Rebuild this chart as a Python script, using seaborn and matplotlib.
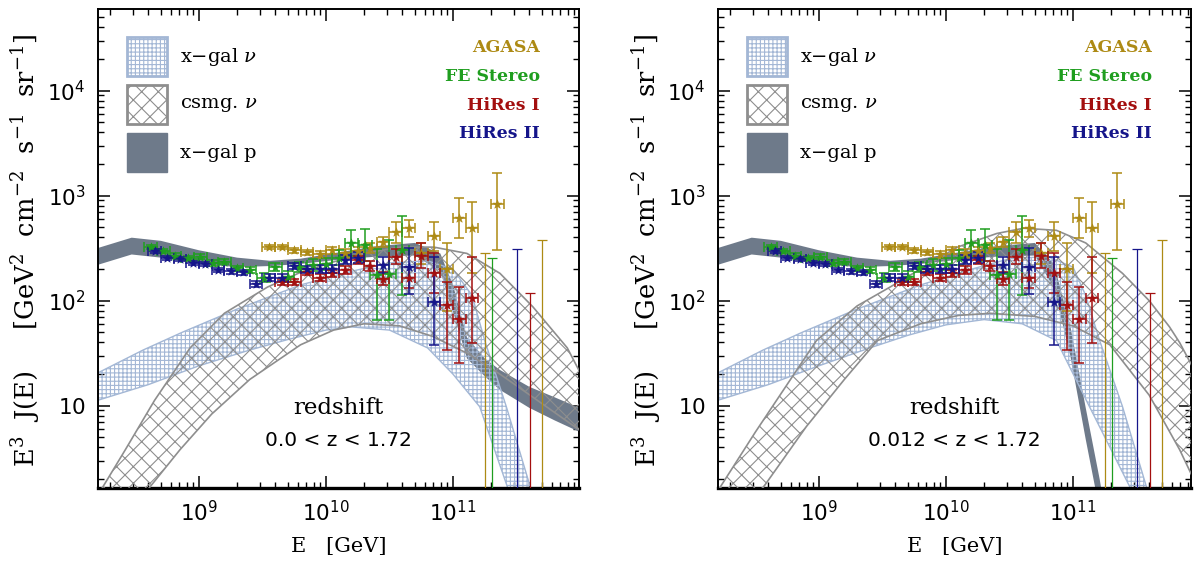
import numpy as np
import matplotlib
matplotlib.use("Agg")
import matplotlib.pyplot as plt
import seaborn as sns
from matplotlib.patches import Rectangle
from matplotlib.ticker import FixedLocator, FixedFormatter, NullFormatter, LogLocator

# ---------------- data: log10(E / GeV) and log10(E^3 J) ----------------
agasa_logE = [9.55, 9.65, 9.75, 9.85, 9.95, 10.05, 10.15, 10.25, 10.35, 10.45, 10.55, 10.65,
              10.75, 10.85, 10.95, 11.05, 11.15, 11.35]
agasa_logJ = [2.51, 2.51, 2.48, 2.46, 2.44, 2.48, 2.45, 2.47, 2.50, 2.56, 2.65, 2.69,
              2.45, 2.62, 2.30, 2.79, 2.69, 2.92]
agasa_dlo = [0.02, 0.02, 0.025, 0.025, 0.03, 0.035, 0.04, 0.045, 0.05, 0.05, 0.10, 0.08,
             0.10, 0.15, 0.40, 0.19, 0.43, 0.44]
agasa_dhi = [0.02, 0.02, 0.025, 0.025, 0.03, 0.035, 0.04, 0.045, 0.05, 0.05, 0.10, 0.08,
             0.10, 0.13, 0.25, 0.19, 0.25, 0.30]
agasa_ul_logE = [11.25, 11.70]
agasa_ul_logJ = [2.45, 2.58]

fe_logE = [8.62, 8.72, 8.81, 8.91, 9.01, 9.11, 9.20, 9.30, 9.40, 9.51, 9.60, 9.70, 9.79,
           9.90, 10.00, 10.10, 10.20, 10.31, 10.40, 10.50, 10.60]
fe_logJ = [2.51, 2.47, 2.43, 2.41, 2.42, 2.36, 2.37, 2.31, 2.29, 2.22, 2.32, 2.23, 2.32,
           2.34, 2.35, 2.41, 2.55, 2.53, 2.24, 2.25, 2.48]
fe_dlo = [0.02, 0.02, 0.02, 0.02, 0.02, 0.025, 0.025, 0.025, 0.03, 0.04, 0.04, 0.05, 0.05,
          0.06, 0.06, 0.07, 0.12, 0.15, 0.42, 0.43, 0.43]
fe_dhi = [0.02, 0.02, 0.02, 0.02, 0.02, 0.025, 0.025, 0.025, 0.03, 0.04, 0.04, 0.05, 0.05,
          0.06, 0.06, 0.07, 0.12, 0.15, 0.25, 0.33, 0.33]
fe_ul_logE = [11.31]
fe_ul_logJ = [2.41]

hr1_logE = [9.65, 9.75, 9.85, 9.95, 10.05, 10.15, 10.25, 10.35, 10.45, 10.55, 10.65, 10.75,
            10.85, 10.95, 11.05, 11.15]
hr1_logJ = [2.18, 2.18, 2.27, 2.22, 2.26, 2.29, 2.39, 2.33, 2.21, 2.42, 2.22, 2.43,
            2.26, 1.96, 1.83, 2.03]
hr1_dlo = [0.03, 0.03, 0.03, 0.035, 0.035, 0.04, 0.04, 0.05, 0.06, 0.07, 0.10, 0.12,
           0.19, 0.43, 0.42, 0.43]
hr1_dhi = [0.03, 0.03, 0.03, 0.035, 0.035, 0.04, 0.04, 0.05, 0.06, 0.07, 0.10, 0.12,
           0.19, 0.22, 0.30, 0.39]
hr1_ul_logE = [11.61]
hr1_ul_logJ = [2.07]

hr2_logE = [8.65, 8.75, 8.85, 8.95, 9.05, 9.15, 9.25, 9.35, 9.45, 9.55, 9.65, 9.75, 9.85,
            9.95, 10.05, 10.15, 10.25, 10.45, 10.65, 10.85]
hr2_logJ = [2.47, 2.41, 2.40, 2.36, 2.35, 2.29, 2.28, 2.27, 2.16, 2.22, 2.22, 2.33, 2.30,
            2.30, 2.30, 2.39, 2.41, 2.34, 2.32, 1.99]
hr2_dlo = [0.02, 0.02, 0.02, 0.02, 0.02, 0.02, 0.025, 0.025, 0.03, 0.03, 0.03, 0.03, 0.035,
           0.04, 0.04, 0.045, 0.05, 0.08, 0.26, 0.41]
hr2_dhi = [0.02, 0.02, 0.02, 0.02, 0.02, 0.02, 0.025, 0.025, 0.03, 0.03, 0.03, 0.03, 0.035,
           0.04, 0.04, 0.045, 0.05, 0.08, 0.18, 0.43]
hr2_ul_logE = [11.50]
hr2_ul_logJ = [2.49]

half_bin = 0.05   # half width of the energy bins (decades)

# ---------------- model bands (edges: log10 E, log10 E^3 J) ----------------
# left panel: redshift 0.0 < z < 1.72
L_xnu_up_E = [8.10, 8.20, 8.56, 8.87, 9.30, 9.80, 10.20, 10.50, 10.80, 11.00, 11.15, 11.25, 11.42, 11.61, 11.70]
L_xnu_up_J = [1.24, 1.31, 1.53, 1.70, 1.92, 2.15, 2.28, 2.36, 2.38, 2.30, 2.05, 1.62, 0.99, 0.22, -0.30]
L_xnu_lo_E = [8.10, 8.20, 8.60, 9.00, 9.40, 9.70, 10.00, 10.20, 10.50, 10.80, 11.00, 11.21, 11.43, 11.50]
L_xnu_lo_J = [0.98, 1.05, 1.20, 1.38, 1.53, 1.63, 1.72, 1.75, 1.72, 1.55, 1.30, 0.99, 0.22, -0.10]

L_cnu_up_E = [8.10, 8.24, 8.42, 8.65, 8.93, 9.20, 9.54, 9.80, 10.06, 10.30, 10.58, 10.85, 11.11, 11.37, 11.63, 11.90, 12.05]
L_cnu_up_J = [-0.10, 0.22, 0.58, 1.05, 1.55, 1.88, 2.13, 2.27, 2.37, 2.45, 2.51, 2.51, 2.45, 2.26, 1.94, 1.55, 1.20]
L_cnu_lo_E = [8.30, 8.61, 8.85, 9.10, 9.40, 9.80, 10.06, 10.30, 10.58, 10.84, 11.11, 11.37, 11.63, 11.90, 12.05]
L_cnu_lo_J = [-0.30, 0.22, 0.58, 0.92, 1.25, 1.58, 1.72, 1.78, 1.76, 1.66, 1.50, 1.30, 1.08, 0.85, 0.72]

L_p_E = [8.10, 8.20, 8.47, 8.70, 9.00, 9.30, 9.56, 9.80, 10.10, 10.40, 10.70, 10.90, 11.00, 11.11, 11.25, 11.37, 11.60, 11.80, 12.05]
L_p_up = [2.46, 2.50, 2.60, 2.57, 2.48, 2.41, 2.38, 2.40, 2.46, 2.52, 2.55, 2.45, 2.15, 1.65, 1.45, 1.34, 1.18, 1.08, 0.95]
L_p_lo = [2.30, 2.34, 2.44, 2.41, 2.35, 2.32, 2.33, 2.35, 2.39, 2.42, 2.43, 2.28, 1.90, 1.45, 1.28, 1.15, 0.98, 0.86, 0.72]

# right panel: redshift 0.012 < z < 1.72
R_xnu_up_E = [8.10, 8.20, 8.56, 8.87, 9.30, 9.80, 10.20, 10.50, 10.80, 11.00, 11.10, 11.21, 11.39, 11.58, 11.70]
R_xnu_up_J = [1.24, 1.31, 1.53, 1.70, 1.92, 2.15, 2.30, 2.40, 2.42, 2.32, 2.05, 1.62, 0.99, 0.22, -0.50]
R_xnu_lo_E = [8.10, 8.20, 8.60, 9.00, 9.40, 9.70, 10.00, 10.30, 10.60, 10.87, 11.13, 11.45, 11.55]
R_xnu_lo_J = [0.98, 1.05, 1.20, 1.38, 1.55, 1.67, 1.77, 1.82, 1.78, 1.62, 0.99, 0.22, -0.20]

R_cnu_up_E = [8.10, 8.22, 8.50, 8.98, 9.30, 9.56, 10.09, 10.40, 10.61, 10.87, 11.10, 11.39, 11.60, 11.76, 11.84, 11.95]
R_cnu_up_J = [-0.20, 0.22, 0.75, 1.62, 1.95, 2.13, 2.51, 2.64, 2.69, 2.67, 2.55, 2.26, 2.00, 1.75, 1.60, 1.35]
R_cnu_lo_E = [8.30, 8.56, 8.90, 9.20, 9.46, 9.80, 10.10, 10.35, 10.70, 11.00, 11.29, 11.60, 11.84, 11.95]
R_cnu_lo_J = [-0.20, 0.22, 0.80, 1.25, 1.62, 1.78, 1.86, 1.88, 1.85, 1.76, 1.58, 1.10, 0.58, 0.30]

R_p_E = [8.10, 8.20, 8.47, 8.70, 9.00, 9.30, 9.56, 9.80, 10.10, 10.40, 10.70, 10.85, 10.98, 11.10, 11.21, 11.32]
R_p_up = [2.46, 2.50, 2.60, 2.57, 2.48, 2.41, 2.38, 2.40, 2.46, 2.52, 2.55, 2.35, 1.75, 0.98, 0.30, -0.50]
R_p_lo = [2.30, 2.34, 2.44, 2.41, 2.35, 2.32, 2.33, 2.35, 2.39, 2.42, 2.43, 2.12, 1.47, 0.68, 0.00, -0.80]

# ---------------- labels / ticks ----------------
legend_labels = ["x\u2212gal $\\nu$", "csmg. $\\nu$", "x\u2212gal p"]
experiments = ["AGASA", "FE Stereo", "HiRes I", "HiRes II"]
redshift_ranges = ["0.0 < z < 1.72", "0.012 < z < 1.72"]
xtick_vals = [1e9, 1e10, 1e11]
xtick_labels = ["$\\mathdefault{10^{9}}$", "$\\mathdefault{10^{10}}$", "$\\mathdefault{10^{11}}$"]
ytick_vals = [10, 100, 1000, 10000]
ytick_labels = ["$\\mathdefault{10}$", "$\\mathdefault{10^{2}}$", "$\\mathdefault{10^{3}}$", "$\\mathdefault{10^{4}}$"]
xlabel = "E   [GeV]"
ylabel = "E$^{3}$  J(E)     [GeV$^{2}$  cm$^{-2}$  s$^{-1}$  sr$^{-1}$]"

# ---------------- styling ----------------
sns.set_theme(style="ticks")
plt.rcParams["font.family"] = ["DejaVu Sans"]
plt.rcParams["hatch.linewidth"] = 0.8
plt.rcParams["mathtext.fontset"] = "dejavuserif"
for k in ["text.color", "axes.labelcolor", "xtick.color", "ytick.color", "axes.edgecolor"]:
    plt.rcParams[k] = "black"

C_AGASA = "#ad8a14"
C_FE = "#1f9e1f"
C_HR1 = "#a30f0f"
C_HR2 = "#15158a"
C_XNU = "#a3b7d5"
C_CNU = "#8e8e8e"
C_P = "#6e7a8a"
exp_colors = [C_AGASA, C_FE, C_HR1, C_HR2]

SERIF = ["DejaVu Serif"]

fig = plt.figure(figsize=(11.99, 5.61), dpi=100)
axL = fig.add_axes([98 / 1199, 73 / 561, 481 / 1199, 479 / 561])
axR = fig.add_axes([718 / 1199, 73 / 561, 473 / 1199, 479 / 561])


def band(ax, ue, uj, le, lj, **kw):
    xs = 10 ** np.concatenate([np.array(ue), np.array(le)[::-1]])
    ys = 10 ** np.concatenate([np.array(uj), np.array(lj)[::-1]])
    ax.fill(xs, ys, **kw)


def data_series(ax, logE, logJ, dlo, dhi, ul_E, ul_J, color):
    logE = np.array(logE); logJ = np.array(logJ)
    E = 10 ** logE
    J = 10 ** logJ
    xerr = [E - 10 ** (logE - half_bin), 10 ** (logE + half_bin) - E]
    yerr = [J - 10 ** (logJ - np.array(dlo)), 10 ** (logJ + np.array(dhi)) - J]
    ax.errorbar(E, J, xerr=xerr, yerr=yerr, fmt="none", ecolor=color,
                elinewidth=1.1, capsize=3.5, capthick=1.1, zorder=5)
    sns.scatterplot(x=E, y=J, ax=ax, marker="*", s=45, color=color,
                    edgecolor=color, linewidth=0.4, zorder=6, legend=False)
    ulE = 10 ** np.array(ul_E)
    ulJ = 10 ** np.array(ul_J)
    ax.errorbar(ulE, ulJ, yerr=[ulJ - 1e-3, np.zeros_like(ulJ)], fmt="none",
                ecolor=color, elinewidth=0.9, capsize=3.5, capthick=0.9, zorder=5)


def panel(ax, xnu, cnu, prot, ztext, xmax_log):
    ax.set_xscale("log")
    ax.set_yscale("log")
    ax.set_xlim(10 ** 8.205, 10 ** xmax_log)
    ax.set_ylim(10 ** 0.216, 10 ** 4.778)

    band(ax, prot[0], prot[1], prot[0], prot[2], facecolor=C_P, edgecolor="none", zorder=1)
    band(ax, *xnu, facecolor="none", edgecolor=C_XNU, hatch="++++", linewidth=1.0, zorder=2)
    band(ax, *cnu, facecolor="none", edgecolor=C_CNU, hatch="xx", linewidth=1.2, zorder=3)

    data_series(ax, agasa_logE, agasa_logJ, agasa_dlo, agasa_dhi, agasa_ul_logE, agasa_ul_logJ, C_AGASA)
    data_series(ax, fe_logE, fe_logJ, fe_dlo, fe_dhi, fe_ul_logE, fe_ul_logJ, C_FE)
    data_series(ax, hr1_logE, hr1_logJ, hr1_dlo, hr1_dhi, hr1_ul_logE, hr1_ul_logJ, C_HR1)
    data_series(ax, hr2_logE, hr2_logJ, hr2_dlo, hr2_dhi, hr2_ul_logE, hr2_ul_logJ, C_HR2)

    # ticks
    ax.xaxis.set_major_locator(FixedLocator(xtick_vals))
    ax.xaxis.set_major_formatter(FixedFormatter(xtick_labels))
    ax.xaxis.set_minor_locator(LogLocator(base=10, subs=np.arange(2, 10), numticks=20))
    ax.xaxis.set_minor_formatter(NullFormatter())
    ax.yaxis.set_major_locator(FixedLocator(ytick_vals))
    ax.yaxis.set_major_formatter(FixedFormatter(ytick_labels))
    ax.yaxis.set_minor_locator(LogLocator(base=10, subs=np.arange(2, 10), numticks=20))
    ax.yaxis.set_minor_formatter(NullFormatter())
    ax.tick_params(which="both", direction="in", top=True, right=True, color="black")
    ax.tick_params(which="major", length=8.5, width=1.1, labelsize=15.5)
    ax.tick_params(axis="x", which="major", pad=9)
    ax.tick_params(axis="y", which="major", pad=9)
    ax.tick_params(which="minor", length=4.3, width=1.0)
    for s in ["left", "right", "top"]:
        ax.spines[s].set_linewidth(1.4)
    ax.spines["bottom"].set_linewidth(2.4)

    # model legend (drawn as patches)
    px0, pw, ph = 29, 40, 39
    rows = [(37, dict(facecolor="none", edgecolor=C_XNU, hatch="++++", linewidth=2.0)),
            (85, dict(facecolor="none", edgecolor=C_CNU, hatch="xx", linewidth=2.0)),
            (133, dict(facecolor=C_P, edgecolor=C_P, linewidth=1.0))]
    bb = ax.get_position()
    W = bb.width * 1199
    H = bb.height * 561
    for (ytop, style), lab in zip(rows, legend_labels):
        ax.add_patch(Rectangle((px0 / W, 1 - (ytop - 9 + ph) / H), pw / W, ph / H,
                               transform=ax.transAxes, zorder=7, **style))
        ax.text(82 / W, 1 - (ytop - 9 + ph / 2) / H, lab, transform=ax.transAxes,
                ha="left", va="center", fontsize=14, family=SERIF, zorder=8)

    # experiment labels
    for i, (name, c) in enumerate(zip(experiments, exp_colors)):
        ax.text(1 - 39 / W, 1 - (39 + 28.5 * i) / H, name, transform=ax.transAxes,
                ha="right", va="center", fontsize=12.5, fontweight="bold",
                family=SERIF, color=c, zorder=8)

    ax.text(0.5, 0.167, "redshift", transform=ax.transAxes, ha="center", va="center",
            fontsize=16.5, family=SERIF)
    ax.text(0.5, 0.10, ztext, transform=ax.transAxes, ha="center", va="center",
            fontsize=14.5)
    ax.text(0.5, -0.123, xlabel, transform=ax.transAxes, ha="center", va="center",
            fontsize=15, family=SERIF)
    ax.text(-0.15, 0.497, ylabel, transform=ax.transAxes, ha="center", va="center",
            rotation=90, fontsize=18.5, family=SERIF)


panel(axL, (L_xnu_up_E, L_xnu_up_J, L_xnu_lo_E, L_xnu_lo_J),
      (L_cnu_up_E, L_cnu_up_J, L_cnu_lo_E, L_cnu_lo_J),
      (L_p_E, L_p_up, L_p_lo), redshift_ranges[0], 11.992)
panel(axR, (R_xnu_up_E, R_xnu_up_J, R_xnu_lo_E, R_xnu_lo_J),
      (R_cnu_up_E, R_cnu_up_J, R_cnu_lo_E, R_cnu_lo_J),
      (R_p_E, R_p_up, R_p_lo), redshift_ranges[1], 11.929)

fig.savefig("out.png", dpi=100)
